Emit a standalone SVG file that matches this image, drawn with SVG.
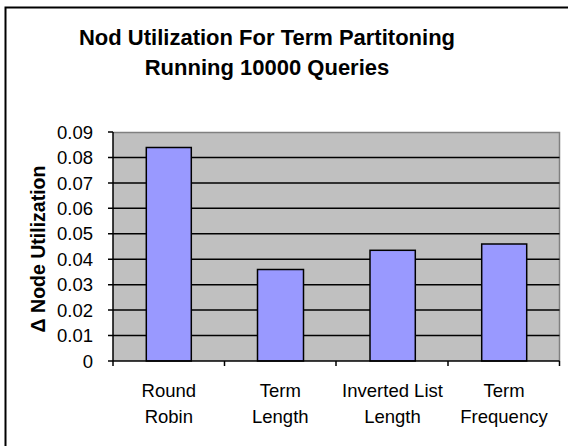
<svg xmlns="http://www.w3.org/2000/svg" width="568" height="446" viewBox="0 0 568 446">
<style>
text{font-family:"Liberation Sans",Arial,sans-serif;fill:#000}
.title{font-size:22px;font-weight:bold;text-anchor:middle}
.tick{font-size:18.5px;text-anchor:end}
.cat{font-size:18.5px;text-anchor:middle}
.ax{font-size:19.5px;font-weight:bold;text-anchor:middle}
.grid{stroke:#000;stroke-width:1.5}
.bar{fill:#9999FF;stroke:#000;stroke-width:1.5}
</style>
<rect x="0" y="0" width="568" height="446" fill="#fff"/>
<rect x="5.5" y="7.5" width="600" height="500" fill="#fff" stroke="#000" stroke-width="2"/>
<g id="title">
<text class="title" x="267" y="45">Nod Utilization For Term Partitoning</text>
<text class="title" x="267" y="75">Running 10000 Queries</text>
</g>
<g id="plot">
<rect x="113" y="132" width="446.5" height="229" fill="#C0C0C0"/>
<path d="M113,132.5H559.5V361" fill="none" stroke="#808080" stroke-width="1.5"/>
<g class="grid">
<line x1="113" y1="157.4" x2="559.5" y2="157.4"/>
<line x1="113" y1="182.9" x2="559.5" y2="182.9"/>
<line x1="113" y1="208.3" x2="559.5" y2="208.3"/>
<line x1="113" y1="233.8" x2="559.5" y2="233.8"/>
<line x1="113" y1="259.2" x2="559.5" y2="259.2"/>
<line x1="113" y1="284.7" x2="559.5" y2="284.7"/>
<line x1="113" y1="310.1" x2="559.5" y2="310.1"/>
<line x1="113" y1="335.6" x2="559.5" y2="335.6"/>
</g>
</g>
<g id="bars">
<rect id="bar-round-robin" class="bar" x="146.3" y="147.5" width="45" height="213.5"/>
<rect id="bar-term-length" class="bar" x="257.5" y="269.5" width="46" height="91.5"/>
<rect id="bar-inverted-list-length" class="bar" x="370" y="250.3" width="45.3" height="110.7"/>
<rect id="bar-term-frequency" class="bar" x="481.7" y="244" width="45" height="117"/>
</g>
<g id="axes" stroke="#000" stroke-width="1.5" fill="none">
<path d="M113,132V366"/>
<path d="M108,361H559.5"/>
<path d="M108,132H113M108,157.4H113M108,182.9H113M108,208.3H113M108,233.8H113M108,259.2H113M108,284.7H113M108,310.1H113M108,335.6H113"/>
<path d="M224.5,361V366M336,361V366M448,361V366M559.5,361V366"/>
</g>
<g id="y-labels">
<text class="tick" x="93" y="138.6">0.09</text>
<text class="tick" x="93" y="164">0.08</text>
<text class="tick" x="93" y="189.5">0.07</text>
<text class="tick" x="93" y="214.9">0.06</text>
<text class="tick" x="93" y="240.4">0.05</text>
<text class="tick" x="93" y="265.8">0.04</text>
<text class="tick" x="93" y="291.3">0.03</text>
<text class="tick" x="93" y="316.7">0.02</text>
<text class="tick" x="93" y="342.2">0.01</text>
<text class="tick" x="93" y="367.6">0</text>
</g>
<g id="y-title">
<text class="ax" transform="translate(45,249) rotate(-90)">Δ Node Utilization</text>
</g>
<g id="x-labels">
<text class="cat" x="168.8" y="397">Round</text>
<text class="cat" x="168.8" y="423">Robin</text>
<text class="cat" x="280.3" y="397">Term</text>
<text class="cat" x="280.3" y="423">Length</text>
<text class="cat" x="392.5" y="397">Inverted List</text>
<text class="cat" x="392.5" y="423">Length</text>
<text class="cat" x="504" y="397">Term</text>
<text class="cat" x="504" y="423">Frequency</text>
</g>
</svg>
